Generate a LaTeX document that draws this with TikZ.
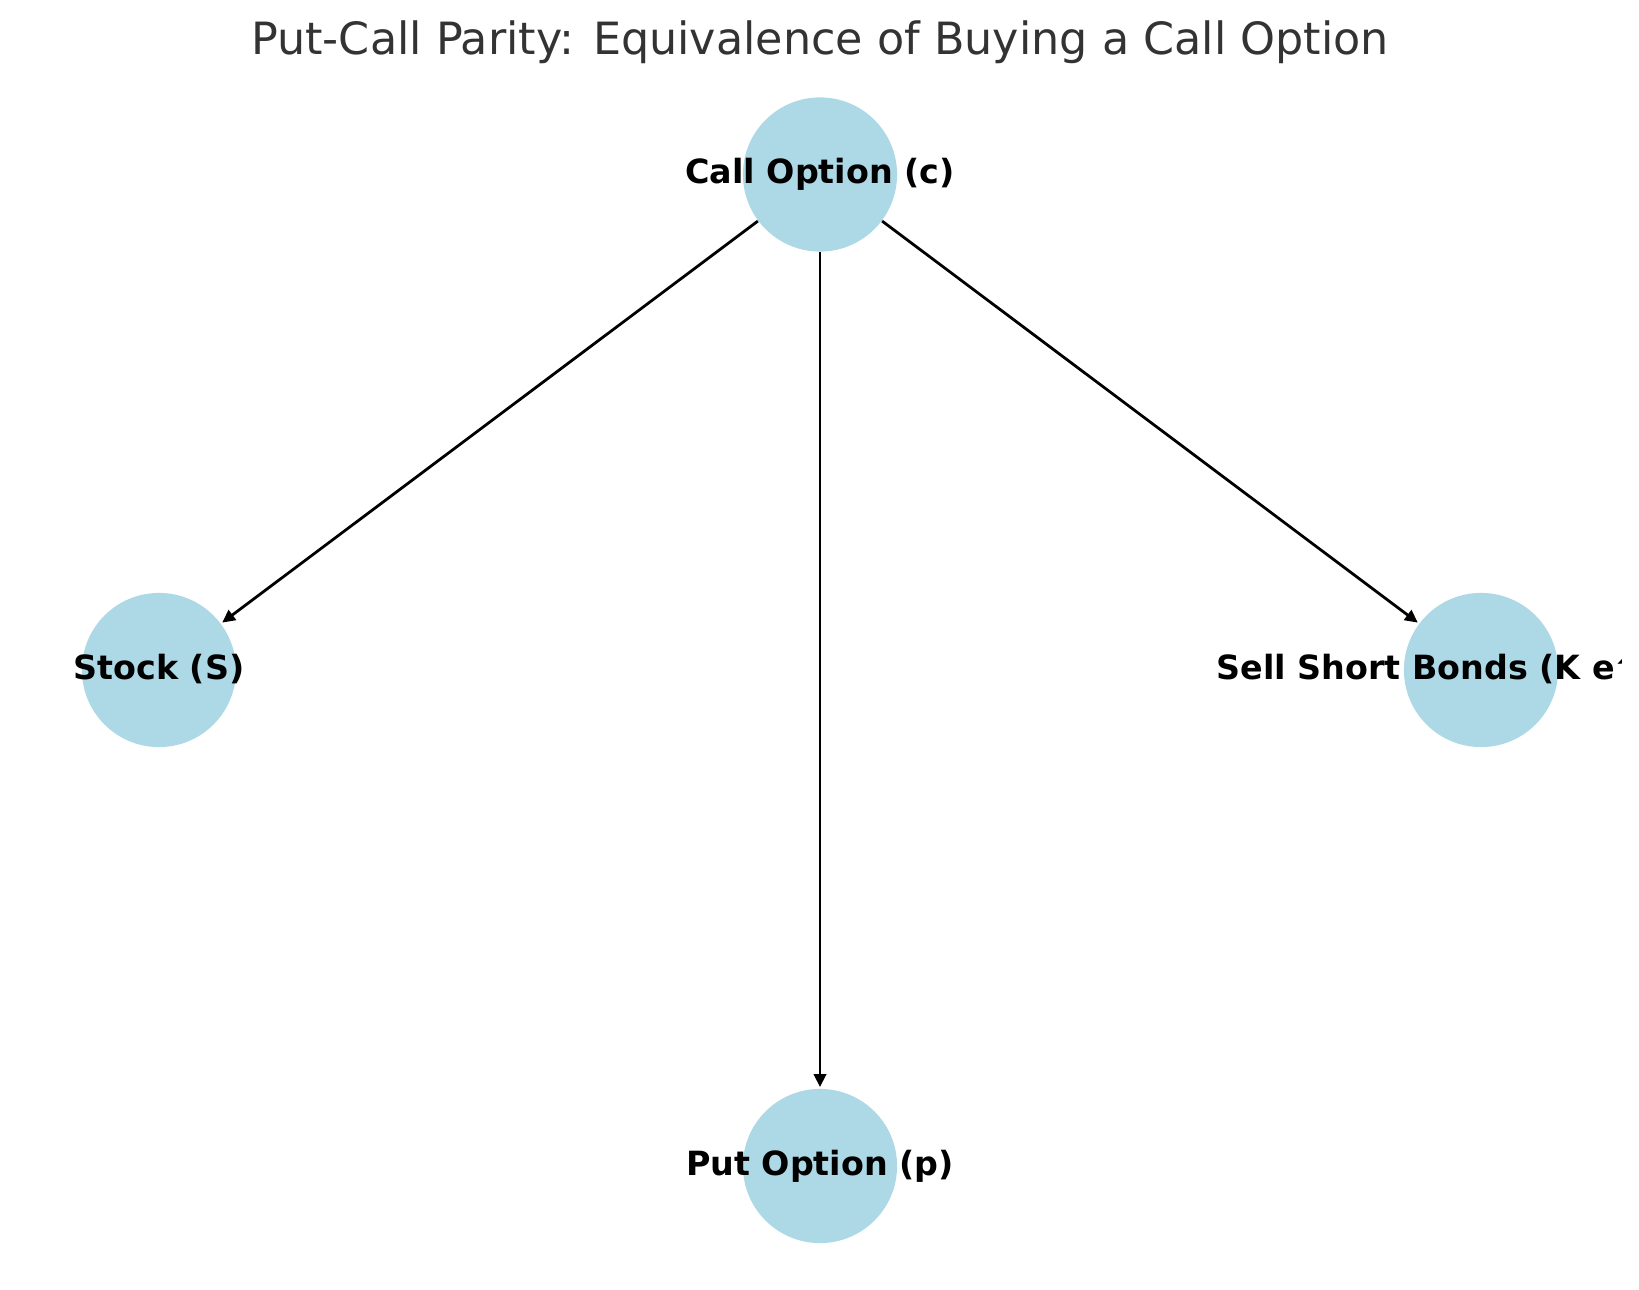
\documentclass[tikz,border=0pt]{standalone}
\usepackage{fontspec}
\setmainfont{DejaVu Sans}
\usetikzlibrary{arrows.meta}
\definecolor{nodeblue}{HTML}{ADD8E6}
\definecolor{titlegray}{HTML}{333333}
\tikzset{
  statenode/.style={circle, fill=nodeblue, draw=none, minimum size=55.5bp, inner sep=0pt},
  labeltext/.style={anchor=base, inner sep=0pt, font=\fontsize{12bp}{14bp}\selectfont\bfseries, text=black},
  link/.style={draw=black, line width=1bp, -{Triangle[length=4.6bp,width=4.4bp]}, shorten >=0.5bp},
  titletext/.style={anchor=base, inner sep=0pt, font=\fontsize{16bp}{19bp}\selectfont, text=titlegray}
}
\begin{document}
\begin{tikzpicture}[x=0.36bp, y=-0.36bp]
\useasboundingbox (0,0) rectangle (1639,1290);
\fill[white] (0,0) rectangle (1639,1290);
\node[titletext] (title) at (820,55) {Put-Call Parity: Equivalence of Buying a Call Option};
\node[statenode] (call) at (820,174.5) {};
\node[statenode] (stock) at (159,670) {};
\node[statenode] (bonds) at (1481,670) {};
\node[statenode] (put) at (820,1166) {};
\draw[link] (call) -- (stock);
\draw[link] (call) -- (put);
\draw[link] (call) -- (bonds);
\node[labeltext] (calllbl) at (820,184) {Call Option (c)};
\node[labeltext] (stocklbl) at (159,679.5) {Stock (S)};
\node[labeltext] (putlbl) at (820,1175.5) {Put Option (p)};
\begin{scope}
\clip (0,0) rectangle (1621,1290);
\node[labeltext] (bondslbl) at (1479,679.5) {Sell Short Bonds (K e\textasciicircum(-rT))};
\end{scope}
\end{tikzpicture}
\end{document}
